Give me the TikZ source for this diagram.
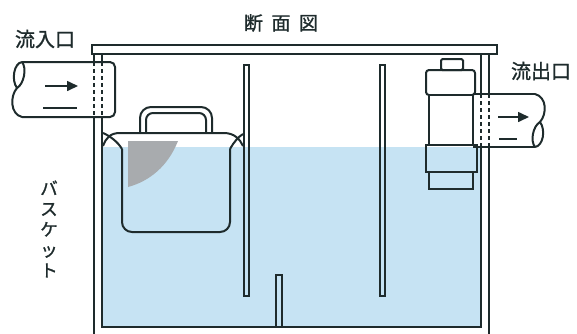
\documentclass[tikz,border=0pt]{standalone}
\usepackage{fontspec}
\usetikzlibrary{arrows.meta}
\newfontfamily\jp[FakeBold=1.2]{Noto Sans CJK JP}
\definecolor{ink}{HTML}{1E2B2C}
\definecolor{water}{HTML}{C6E3F3}
\definecolor{basketgray}{HTML}{A8ABAE}
\begin{document}
\begin{tikzpicture}[x=1pt,y=-1pt,
  line/.style={draw=ink,line width=2pt},
  hidden/.style={draw=ink,line width=1.6pt,dash pattern=on 4pt off 3pt},
  flow/.style={draw=ink,line width=1.6pt,-{Triangle[length=11pt,width=10pt]}},
  label/.style={font=\jp\fontsize{20}{22}\selectfont,text=ink,inner sep=0pt},
  title/.style={font=\jp\fontsize{19}{22}\selectfont,text=ink,inner sep=0pt}]
\useasboundingbox (0,0) rectangle (577,333);

% water inside the tank
\fill[water] (102,147) rectangle (481,327);
% shaded inner face of the basket
\fill[basketgray] (128,141) -- (178,141) .. controls (168,166) and (150,181) .. (128,187) -- cycle;

% lid
\draw[line] (92,45) rectangle (497,54);

% tank walls and floor
\draw[line] (94,54) -- (94,62);
\draw[line] (94,117) -- (94,334);
\draw[line] (102,54) -- (102,62);
\draw[line] (102,117) -- (102,327) -- (481,327) -- (481,147);
\draw[line] (481,54) -- (481,94);
\draw[line] (489,54) -- (489,94);
\draw[line] (489,147) -- (489,334);

% baffles and bottom weir
\draw[line] (244,65) rectangle (249,296);
\draw[line] (380,65) rectangle (385,296);
\draw[line] (276,327) -- (276,275) -- (282,275) -- (282,327);

% basket
\draw[line,rounded corners=11] (140,133) -- (140,107) -- (212,107) -- (212,133);
\draw[line,rounded corners=7] (146,133) -- (146,113) -- (206,113) -- (206,133);
\draw[line] (103,146) .. controls (106,138) and (110,133) .. (120,133) -- (224,133)
  .. controls (234,133) and (240,139) .. (243,146);
\draw[line] (103,133) .. controls (110,136) and (118,142) .. (122,149);
\draw[line] (243,134) .. controls (238,137) and (234,142) .. (230,149);
\draw[line,rounded corners=10] (122,149) -- (122,232) -- (230,232) -- (230,149);

% inlet pipe
\fill[white,rounded corners=5] (22,62) -- (115,62) -- (115,117) -- (22,117) -- cycle;
\draw[line,rounded corners=5] (22,62) -- (115,62) -- (115,117) -- (22,117);
\draw[line] (22,62) .. controls (14,63) and (11,80) .. (17,88)
  .. controls (10,96) and (10,114) .. (22,117);
\draw[line] (22,62) .. controls (27,68) and (24,84) .. (17,88);
\draw[hidden] (94,62) -- (94,117);
\draw[hidden] (102,62) -- (102,117);
\draw[flow] (45,86) -- (78,86);
\draw[line,line width=1.6pt] (43,108) -- (77,108);

% outlet fitting
\draw[line,fill=white,rounded corners=3] (426,70) rectangle (475,95);
\draw[line,fill=white,rounded corners=1.5] (441,59) rectangle (463,70);
\draw[line,fill=white] (429,95) rectangle (473,145);
\draw[line] (426,145) rectangle (477,172);
\draw[line] (429,172) rectangle (473,189);

% outlet pipe
\draw[line] (473,94) -- (535,94);
\draw[line] (473,147) -- (535,147);
\draw[line] (535,94) .. controls (547,97) and (547,114) .. (540,122)
  .. controls (546,130) and (543,146) .. (535,147);
\draw[line] (535,147) .. controls (530,141) and (533,126) .. (540,122);
\draw[hidden] (481,94) -- (481,147);
\draw[hidden] (489,94) -- (489,147);
\draw[flow] (498,117) -- (529,117);
\draw[line,line width=1.6pt] (499,139) -- (517,139);

% labels
\node[title] (title) at (281,23) {断\hspace{0.45em}面\hspace{0.45em}図};
\node[label] (inlet) at (45,39) {流入口};
\node[label] (outlet) at (541,71) {流出口};
\node[label,align=center,font=\jp\fontsize{17.5}{20.5}\selectfont] (basket) at (49,229) {バ\\ス\\ケ\\ッ\\ト};
\end{tikzpicture}
\end{document}
